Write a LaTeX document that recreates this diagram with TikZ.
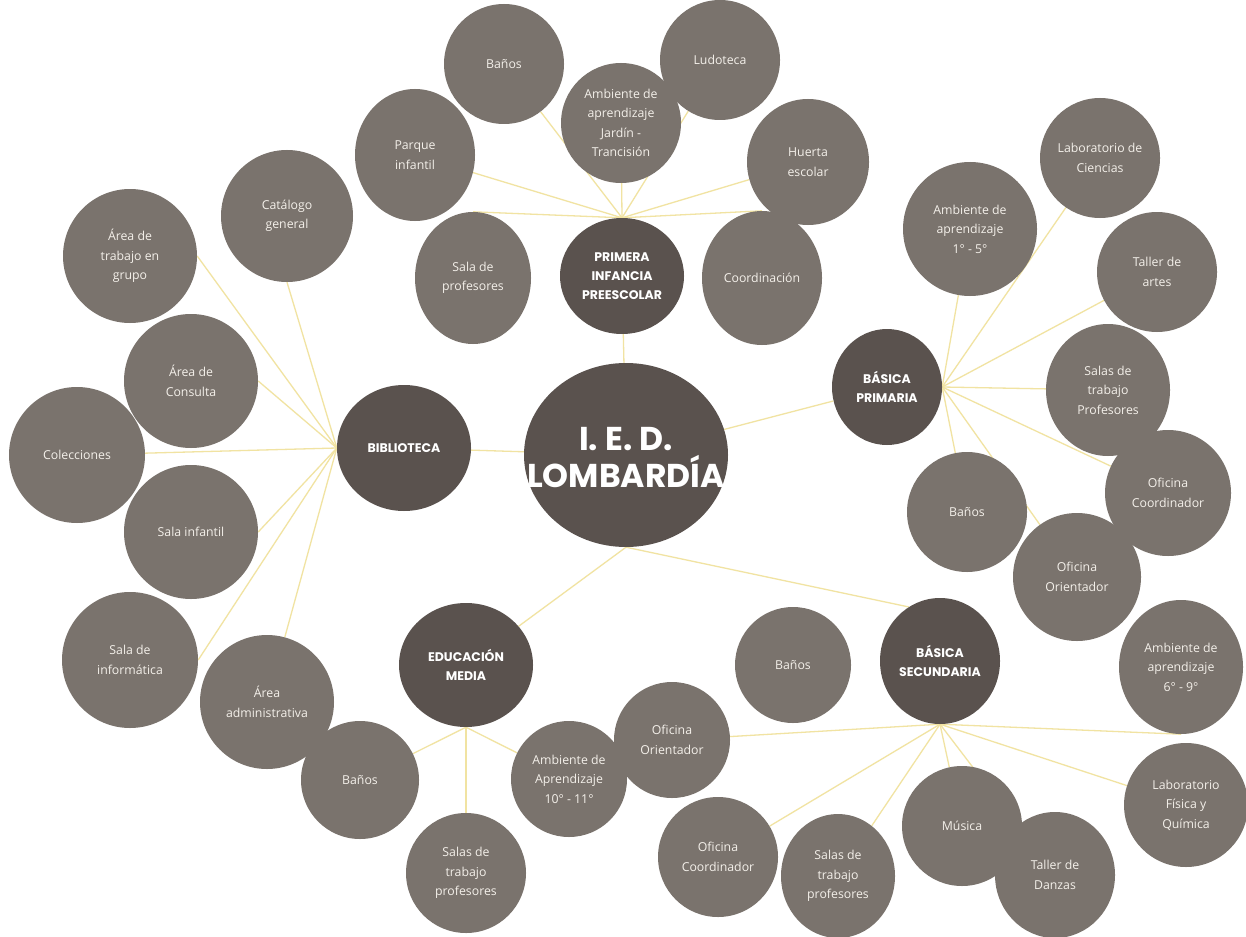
\documentclass[tikz,border=0pt]{standalone}
\usepackage{fontspec}
\setmainfont{Open Sans}
\newfontfamily\headfont{Poppins}
\usetikzlibrary{shapes.geometric,backgrounds}
\definecolor{lightc}{HTML}{7A736D}
\definecolor{darkc}{HTML}{5A524E}
\definecolor{linkc}{HTML}{F1E3A2}
\definecolor{txtc}{HTML}{F4F0EA}
\begin{document}
\begin{tikzpicture}[x=1pt,y=-1pt,
  sz/.style args={#1/#2}{minimum width=2*#1, minimum height=2*#2},
  rr/.style={sz=#1/#1},
  bub/.style={ellipse, fill=lightc, inner sep=0pt, text=txtc, align=center,
    font=\fontsize{12.3}{19.5}\selectfont},
  hubn/.style={ellipse, fill=darkc, inner sep=0pt, text=white, align=center,
    font=\headfont\bfseries\fontsize{12.5}{19}\selectfont},
  link/.style={draw=linkc, line width=1.3pt}]
\useasboundingbox (0,0) rectangle (1246,936);

% centre
\node[hubn, sz=102/92] (ied) at (626,455) {};
\node[text=white, align=center, inner sep=0pt,
  font=\headfont\bfseries\fontsize{33}{37}\selectfont] (iedtext) at (626,458) {I. E. D.\\LOMBARDÍA};

% primera infancia
\node[hubn, sz=62/58] (primera) at (622,276) {PRIMERA\\INFANCIA\\PREESCOLAR};
\node[bub, rr=60] (banosA) at (504,64) {Baños};
\node[bub, rr=60] (ludo) at (720,60) {Ludoteca};
\node[bub, rr=60] (ambJ) at (621,123) {Ambiente de\\aprendizaje\\Jardín -\\Trancisión};
\node[bub, sz=60/66] (parque) at (415,155) {Parque\\infantil};
\node[bub, sz=61/63] (huerta) at (808,162) {Huerta\\escolar};
\node[bub, sz=58/66] (salaprof) at (473,278) {Sala de\\profesores};
\node[bub, sz=60/67] (coord) at (762,278) {Coordinación};

% biblioteca
\node[hubn, sz=67/63] (bibl) at (404,448) {BIBLIOTECA};
\node[bub, rr=66] (catal) at (287,216) {Catálogo\\general};
\node[bub, rr=67] (trabajo) at (130,256) {Área de\\trabajo en\\grupo};
\node[bub, rr=67] (consulta) at (191,381) {Área de\\Consulta};
\node[bub, rr=68] (colecc) at (77,455) {Colecciones};
\node[bub, rr=67] (infantil) at (191,532) {Sala infantil};
\node[bub, rr=68] (informat) at (130,660) {Sala de\\informática};
\node[bub, rr=67] (admin) at (267,702) {Área\\administrativa};

% basica primaria
\node[hubn, sz=55/58] (prim) at (887,387) {BÁSICA\\PRIMARIA};
\node[bub, rr=60] (labc) at (1100,158) {Laboratorio de\\Ciencias};
\node[bub, rr=67] (amb15) at (970,229) {Ambiente de\\aprendizaje\\1° - 5°};
\node[bub, rr=60] (taller) at (1157,272) {Taller de\\artes};
\node[bub, sz=62/66] (salasP) at (1108,390) {Salas de\\trabajo\\Profesores};
\node[bub, rr=60] (banosP) at (967,512) {Baños};
\node[bub, rr=63] (ofcoordP) at (1168,493) {Oficina\\Coordinador};
\node[bub, rr=64] (oforP) at (1077,577) {Oficina\\Orientador};

% basica secundaria
\node[hubn, sz=60/63] (sec) at (940,661) {BÁSICA\\SECUNDARIA};
\node[bub, rr=58] (banosS) at (793,665) {Baños};
\node[bub, sz=62/67] (amb69) at (1181,667) {Ambiente de\\aprendizaje\\6° - 9°};
\node[bub, rr=58] (oforS) at (672,740) {Oficina\\Orientador};
\node[bub, rr=62] (labF) at (1186,805) {Laboratorio\\Física y\\Química};
\node[bub, rr=60] (musica) at (962,826) {Música};
\node[bub, rr=60] (ofcoordS) at (718,857) {Oficina\\Coordinador};
\node[bub, sz=57/62] (salasS) at (838,876) {Salas de\\trabajo\\profesores};
\node[bub, sz=60/63] (danzas) at (1055,875) {Taller de\\Danzas};

% educacion media
\node[hubn, sz=67/62] (media) at (466,665) {EDUCACIÓN\\MEDIA};
\node[bub, rr=59] (banosM) at (360,780) {Baños};
\node[bub, rr=60] (salasM) at (466,873) {Salas de\\trabajo\\profesores};
\node[bub, rr=58] (amb1011) at (569,779) {Ambiente de\\Aprendizaje\\10° - 11°};

\coordinate (hP) at (primera.north);
\coordinate (hB) at (bibl.west);
\coordinate (hR) at (prim.east);
\coordinate (hS) at (sec.south);
\coordinate (hM) at (media.south);

\begin{scope}[on background layer]
\fill[white] (0,0) rectangle (1246,936);
\foreach \t in {banosA,parque,ambJ,ludo,huerta,salaprof.north,coord.north}
  \draw[link] (hP) -- (\t);
\foreach \t in {catal.south,trabajo.east,consulta.east,colecc,infantil.east,informat.east,admin}
  \draw[link] (hB) -- (\t);
\foreach \t in {amb15,labc,taller,salasP,ofcoordP,oforP,banosP}
  \draw[link] (hR) -- (\t);
\foreach \t in {oforS,ofcoordS,salasS,musica,danzas,labF,amb69.south}
  \draw[link] (hS) -- (\t);
\foreach \t in {banosM,salasM,amb1011}
  \draw[link] (hM) -- (\t);
\draw[link] (primera) -- (ied);
\draw[link] (bibl) -- (ied);
\draw[link] (ied) -- (prim);
\draw[link] (ied.south) -- (media);
\draw[link] (ied.south) -- (sec.120);
\end{scope}
\end{tikzpicture}
\end{document}
